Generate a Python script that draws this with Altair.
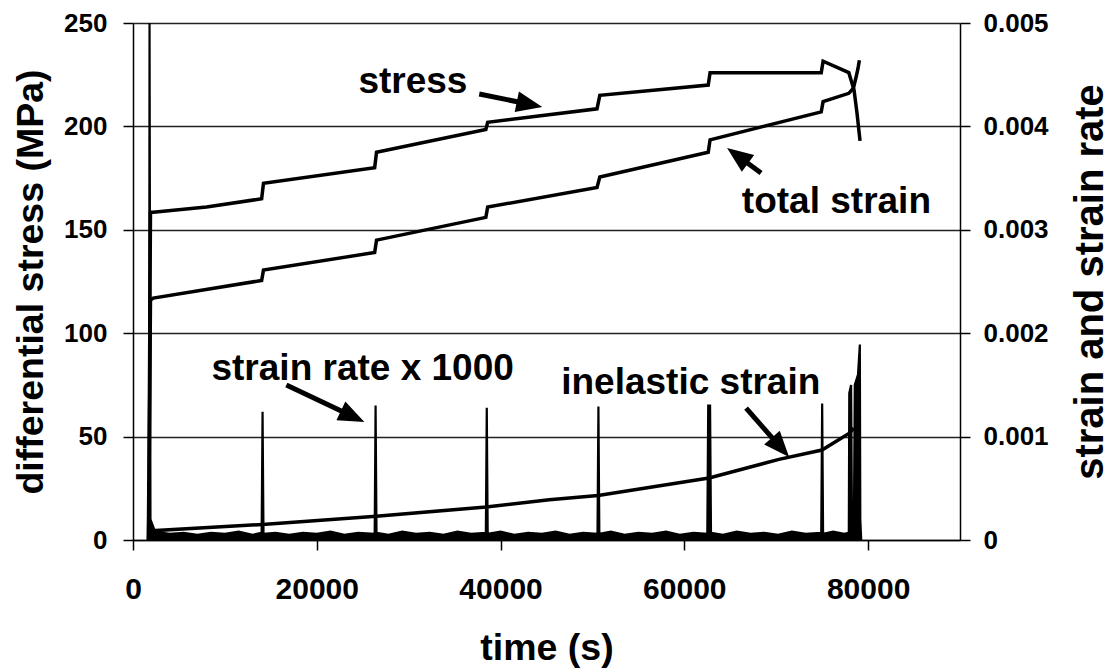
import math
import altair as alt
import pandas as pd

# ---------------- data ----------------
# differential stress (MPa) vs time (s)
stress_time = [1700, 1900, 2200, 8000, 14000, 14200, 26300, 26500, 38400, 38600,
               50500, 50800, 62600, 62800, 74900, 75100, 77900, 78470, 78790, 79120]
stress_mpa = [0, 158.5, 158.5, 161.0, 165.0, 172.5, 180.0, 187.5, 198.5, 202.0,
              208.5, 215.0, 220.0, 226.0, 226.0, 231.5, 226.0, 217.6, 206.5, 193.0]

# total strain vs time
total_time = [1700, 1900, 2200, 14000, 14200, 26300, 26500, 38400, 38600, 50500,
              50800, 62600, 62800, 74900, 75100, 77900, 78400, 78700, 78900, 79050]
total_strain = [0, 0.00232, 0.00234, 0.00251, 0.00261, 0.00278, 0.00290, 0.00312,
                0.00322, 0.00341, 0.00351, 0.00375, 0.00387, 0.00414, 0.00424,
                0.00432, 0.00437, 0.00448, 0.00456, 0.00464]

# inelastic strain vs time
inel_time = [1900, 2120, 14080, 26480, 38440, 45300, 50620, 62690, 70300, 74980, 77920, 78460]
inel_strain = [0, 0.00009, 0.00015, 0.00023, 0.00032, 0.00039, 0.00043, 0.00060,
               0.00078, 0.00087, 0.00103, 0.00108]

# strain rate x 1000 vs time
rate_time = [1600, 1650, 1750, 1800, 1900, 2400, 4000, 5500, 7000, 8500, 10000, 11500,
             13000, 14000, 14100, 14200, 15500, 17000, 18500, 20000, 21500, 23000,
             24500, 26300, 26400, 26500, 27800, 29300, 30800, 32300, 33800, 35300,
             36800, 38400, 38500, 38600, 40000, 41500, 43000, 44500, 46000, 47500,
             49000, 50550, 50650, 50750, 52000, 53500, 55000, 56500, 58000, 59500,
             61000, 62500, 62600, 62700, 62800, 62900, 64200, 65700, 67200, 68700,
             70200, 71700, 73200, 74900, 75000, 75100, 76200, 77400, 77900, 77950,
             78150, 78250, 78450, 78550, 78900, 79100, 79150, 79250]
rate_value = [0, 0.00055, 0.00055, 0.00500, 0.00020, 0.00008, 0.00006, 0.00007, 0.00005,
              0.00007, 0.00006, 0.00008, 0.00005, 0.00007, 0.00124, 0.00006, 0.00007,
              0.00005, 0.00007, 0.00006, 0.00008, 0.00005, 0.00007, 0.00006, 0.00130,
              0.00007, 0.00005, 0.00008, 0.00006, 0.00007, 0.00005, 0.00008, 0.00006,
              0.00007, 0.00128, 0.00006, 0.00008, 0.00005, 0.00007, 0.00006, 0.00008,
              0.00005, 0.00007, 0.00006, 0.00129, 0.00006, 0.00008, 0.00005, 0.00007,
              0.00006, 0.00008, 0.00005, 0.00007, 0.00006, 0.00131, 0.00060, 0.00131,
              0.00007, 0.00005, 0.00008, 0.00006, 0.00007, 0.00005, 0.00008, 0.00006,
              0.00007, 0.00132, 0.00006, 0.00008, 0.00006, 0.00007, 0.00142, 0.00150,
              0.00010, 0.00008, 0.00150, 0.00160, 0.00189, 0.00020, 0.0]

# curve labels, placed in (time, MPa)
label_text = ["stress", "total strain", "strain rate x 1000", "inelastic strain"]
label_time = [24530, 66260, 8540, 46600]
label_mpa = [216.2, 158.1, 77.4, 70.6]

# pointer arrows, tail -> tip in (time, MPa)
arrow_tail_time = [37680, 68350, 16690, 66720]
arrow_tail_mpa = [215.7, 177.5, 75.0, 63.8]
arrow_tip_time = [44540, 64650, 25180, 71400]
arrow_tip_mpa = [209.4, 189.6, 57.1, 40.1]

time_ticks = [0, 20000, 40000, 60000, 80000]
stress_ticks = [0, 50, 100, 150, 200, 250]
strain_ticks = [0, 0.001, 0.002, 0.003, 0.004, 0.005]

# ---------------- layout ----------------
W, H = 827, 517
T_MAX, S_MAX, E_MAX = 90000, 250, 0.005
FONT = "Liberation Sans"
INK = "#000000"

px_t = W / T_MAX
px_s = H / S_MAX
HEAD = 26  # arrowhead length in px

arrows = []
for t0, s0, t1, s1 in zip(arrow_tail_time, arrow_tail_mpa, arrow_tip_time, arrow_tip_mpa):
    dx = (t1 - t0) * px_t
    dy = -(s1 - s0) * px_s
    length = math.hypot(dx, dy)
    ang = math.degrees(math.atan2(dx, -dy)) % 360
    k = 1 - (HEAD * 0.6) / length
    arrows.append({
        "t0": t0, "s0": s0,
        "t1": t0 + k * (t1 - t0), "s1": s0 + k * (s1 - s0),
        "tip_t": t1, "tip_s": s1, "angle": ang,
    })

stress_df = pd.DataFrame({"time": stress_time, "value": stress_mpa})
total_df = pd.DataFrame({"time": total_time, "value": total_strain})
inel_df = pd.DataFrame({"time": inel_time, "value": inel_strain})
rate_df = pd.DataFrame({"time": rate_time, "value": rate_value})
label_df = pd.DataFrame({"label": label_text, "time": label_time, "value": label_mpa})
arrow_df = pd.DataFrame(arrows)


def x_scale():
    return alt.Scale(domain=[0, T_MAX], nice=False, zero=False)


def y_left():
    return alt.Scale(domain=[0, S_MAX], nice=False)


def y_right():
    return alt.Scale(domain=[0, E_MAX], nice=False)


x_enc = alt.X(
    "time:Q", scale=x_scale(),
    axis=alt.Axis(
        values=time_ticks, format="d", title="time (s)",
        labelFontSize=30, labelBaseline="alphabetic", labelPadding=48,
        labelFlush=False, labelOverlap=False, tickSize=10,
        titleFontSize=37.5, titleX=W / 2, titleY=119, titleBaseline="alphabetic",
        grid=False,
    ),
)

left_axis = alt.Axis(
    orient="left", values=stress_ticks, format="d", title="differential stress (MPa)",
    labelFontSize=26, labelPadding=16, labelOverlap=False, tickSize=10,
    grid=True, gridColor="#222222", gridWidth=1.4,
    titleFontSize=37.5, titleAngle=270, titleX=-91, titleY=H / 2,
    titleBaseline="alphabetic", titleAlign="center",
)

right_axis = alt.Axis(
    orient="right", values=strain_ticks, format=".3~f", title="strain and strain rate",
    labelFontSize=26, labelPadding=13, labelOverlap=False, tickSize=10, grid=False,
    titleFontSize=40, titleAngle=270, titleX=142, titleY=H / 2,
    titleBaseline="alphabetic", titleAlign="center",
)

# ---- left (MPa) scale: stress and annotations ----
stress_line = alt.Chart(stress_df).mark_line(color=INK, strokeWidth=3.5, clip=True).encode(
    x=x_enc, y=alt.Y("value:Q", scale=y_left(), axis=left_axis)
)
labels = alt.Chart(label_df).mark_text(
    align="left", baseline="alphabetic", font=FONT, fontSize=37, fontWeight="bold", color=INK
).encode(x="time:Q", y=alt.Y("value:Q", scale=y_left(), axis=None), text="label:N")
shafts = alt.Chart(arrow_df).mark_rule(color=INK, strokeWidth=5).encode(
    x="t0:Q", x2="t1:Q", y=alt.Y("s0:Q", scale=y_left(), axis=None), y2="s1:Q"
)
heads = alt.Chart(arrow_df).mark_point(
    shape="M0,0L0.8,2L-0.8,2Z", filled=True, color=INK, opacity=1, size=HEAD ** 2, strokeWidth=0
).encode(
    x="tip_t:Q", y=alt.Y("tip_s:Q", scale=y_left(), axis=None),
    angle=alt.Angle("angle:Q", scale=None),
)

# ---- right (strain) scale: strains and strain rate ----
rate_area = alt.Chart(rate_df).mark_area(color=INK, opacity=1, clip=True).encode(
    x="time:Q", y=alt.Y("value:Q", scale=y_right(), axis=right_axis)
)
rate_line = alt.Chart(rate_df).mark_line(color=INK, strokeWidth=2.2, clip=True).encode(
    x="time:Q", y=alt.Y("value:Q", scale=y_right(), axis=None)
)
total_line = alt.Chart(total_df).mark_line(color=INK, strokeWidth=3.5, clip=True).encode(
    x="time:Q", y=alt.Y("value:Q", scale=y_right(), axis=None)
)
inel_line = alt.Chart(inel_df).mark_line(color=INK, strokeWidth=3.5, clip=True).encode(
    x="time:Q", y=alt.Y("value:Q", scale=y_right(), axis=None)
)

chart = (
    alt.layer(stress_line, rate_area, rate_line, inel_line, total_line, shafts, heads, labels)
    .resolve_scale(y="independent")
    .properties(
        width=W, height=H,
        autosize=alt.AutoSizeParams(type="none"),
        padding={"left": 133, "top": 23, "right": 1111 - 133 - W, "bottom": 668 - 23 - H},
        background="white",
    )
    .configure_view(strokeWidth=0)
    .configure_axis(
        labelFont=FONT, labelFontWeight="bold", labelColor=INK,
        titleFont=FONT, titleFontWeight="bold", titleColor=INK,
        domainColor=INK, domainWidth=1.5, tickColor=INK, tickWidth=1.5,
    )
)

chart.save("out.html", embed_options={"renderer": "svg", "actions": False})
